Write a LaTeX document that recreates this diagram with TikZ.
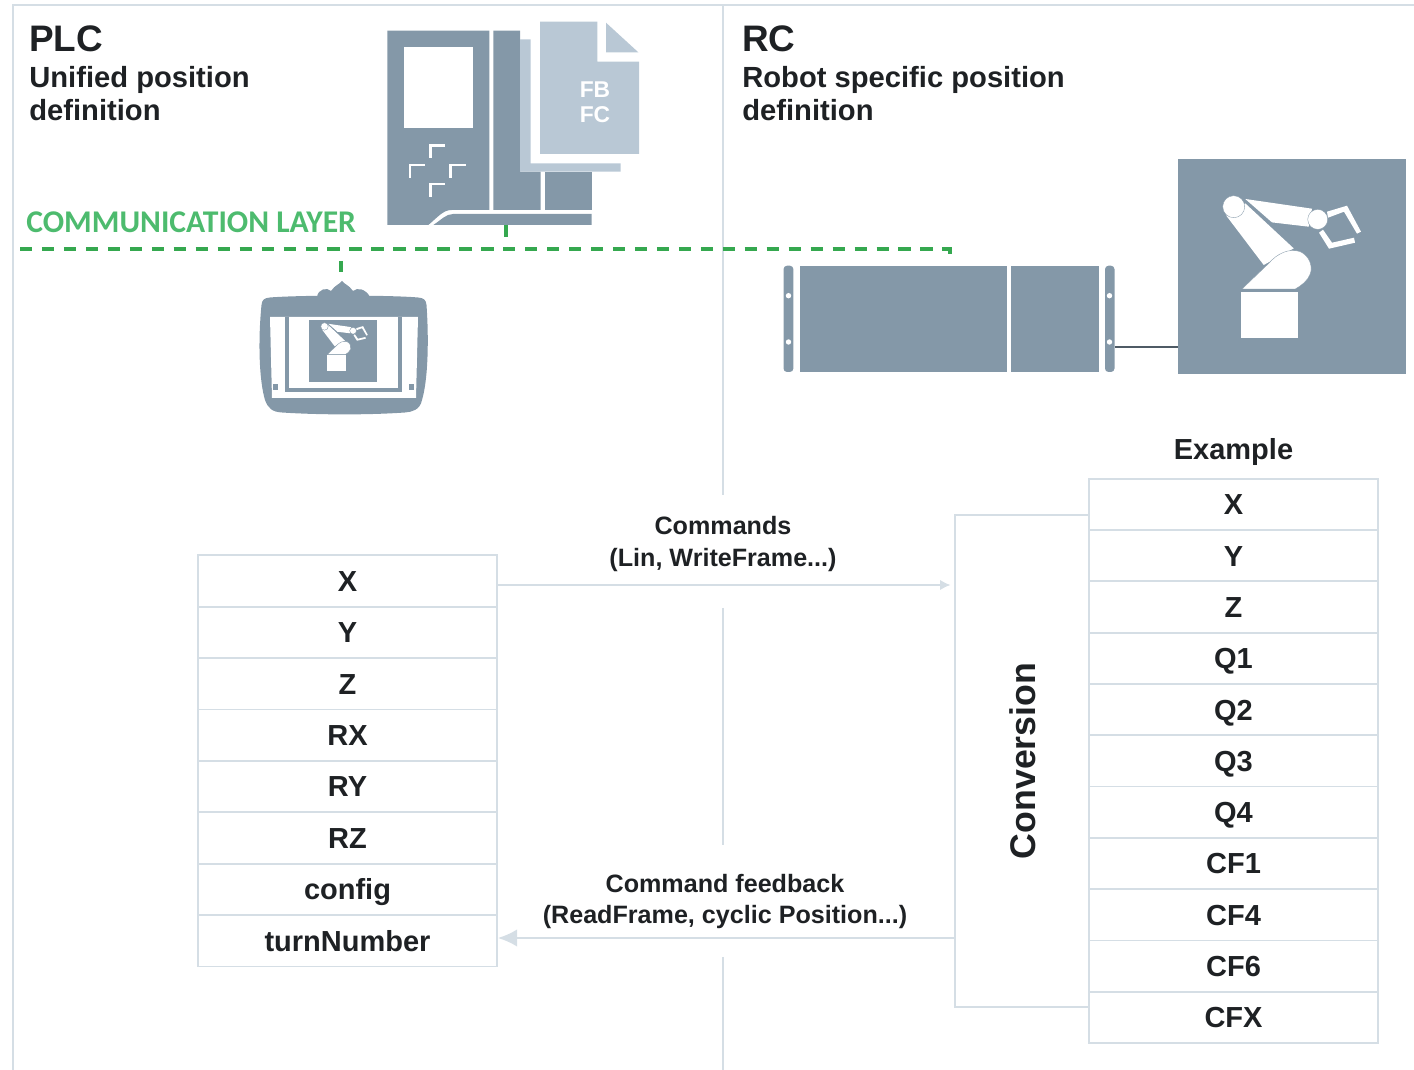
\documentclass[tikz,border=0pt]{standalone}
\usepackage{xcolor}
\usepackage{fontspec}
\setmainfont{Liberation Sans}
\newfontfamily\layerfont{Carlito}
\usetikzlibrary{arrows.meta}

\definecolor{iconcol}{HTML}{8498A8}
\definecolor{doccol}{HTML}{B9C8D5}
\definecolor{rulecol}{HTML}{D5DEE5}
\definecolor{buscol}{HTML}{35A84F}
\definecolor{layercol}{HTML}{4DBB6E}
\definecolor{textcol}{HTML}{1E2124}

\tikzset{
  cellbox/.style={draw=rulecol, line width=1pt, fill=white, inner sep=0pt, text=textcol,
    text height=11.8pt, text depth=0pt, font=\fontsize{16.5}{18}\selectfont\bfseries},
  plccell/.style={cellbox, minimum width=5.98cm, minimum height=1.03cm},
  rccell/.style={cellbox, minimum width=5.78cm, minimum height=1.03cm},
  titletext/.style={anchor=west, inner sep=0pt, text=textcol, font=\fontsize{21}{22}\selectfont\bfseries},
  subtext/.style={anchor=north west, inner sep=0pt, align=left, text=textcol,
    font=\fontsize{16.6}{18.8}\selectfont\bfseries},
  arrowtext/.style={inner sep=0pt, align=center, text=textcol,
    font=\fontsize{14.3}{18.2}\selectfont\bfseries},
  rule/.style={draw=rulecol, line width=1.2pt},
  bus/.style={draw=buscol, line width=2pt, dash pattern=on 7pt off 5.5pt},
  flow/.style={draw=rulecol, line width=1.3pt}
}

% robot arm icon, origin at the lower left corner of its base
\newcommand{\robotarm}[3]{
  \begin{scope}[shift={(#1,#2)}, scale=#3]
    \fill[white] (0,-46) rectangle (56.5,0);
    \fill[white] (-14.7,-122) -- (4.3,-134.3) -- (52.7,-89.3) -- (22.7,-72.7) -- cycle;
    \fill[white] (4.3,-138.7) -- (71,-129) -- (67.7,-111) -- (31,-115.3) -- cycle;
    \filldraw[fill=white, draw=iconcol, very thin] (1,-48.7) -- (27.7,-74.3)
      .. controls (36,-84) and (48,-90) .. (59.3,-86)
      .. controls (68,-82) and (72,-72) .. (69.3,-64)
      .. controls (67,-57) and (60,-52) .. (54.3,-48.7) -- cycle;
    \filldraw[fill=white, draw=iconcol, very thin] (-7.3,-131) circle (11);
    \filldraw[fill=white, draw=iconcol, very thin] (76.7,-118.3) circle (10);
    \fill[white] (86,-126) -- (106,-132) -- (120,-106) -- (116,-104) -- (103,-126) -- (87,-120) -- cycle;
    \fill[white] (82,-108) -- (91,-95) -- (113,-100) -- (114,-95) -- (88,-89) -- (78,-105) -- cycle;
  \end{scope}
}

\begin{document}
\begin{tikzpicture}[x=0.02cm, y=-0.02cm]
    \useasboundingbox (0,0) rectangle (1414,1070);

    % Frame and divider
    \draw[rule] (13,1070) -- (13,5) -- (1414,5);
    \draw[rule] (723,5) -- (723,495);
    \draw[rule] (723,608) -- (723,845);
    \draw[rule] (723,957) -- (723,1070);

    % Headings
    \node[titletext] (plctitle) at (29,39) {PLC};
    \node[subtext] (plcsub) at (29,66) {Unified position\\definition};
    \node[titletext] (rctitle) at (742,39) {RC};
    \node[subtext] (rcsub) at (742,66) {Robot specific position\\definition};
    \node[anchor=west, inner sep=0pt, text=layercol, font=\fontsize{18}{20}\selectfont\layerfont\bfseries]
      (layertext) at (26,222) {COMMUNICATION LAYER};

    % PLC icon
    \fill[iconcol] (387.3,30.7) -- (489.3,30.7) -- (489.3,210) -- (451.7,210)
      .. controls (443,210) and (438,217) .. (428.3,225) -- (387.3,225) -- cycle;
    \fill[white] (404,46.7) rectangle (473,127.7);
    \draw[white, line width=1.5pt] (430.7,158) -- (430.7,145.7) -- (445,145.7);
    \draw[white, line width=1.5pt] (410,178) -- (410,165) -- (425,165);
    \draw[white, line width=1.5pt] (450.7,178) -- (450.7,165) -- (465.7,165);
    \draw[white, line width=1.5pt] (430.7,197) -- (430.7,184) -- (445,184);
    \fill[iconcol] (493.3,30.7) -- (520,30.7) -- (520,171.7) -- (540.7,171.7) -- (540.7,210) -- (493.3,210) -- cycle;
    \fill[iconcol] (545,171.7) rectangle (591.7,210);
    \fill[iconcol] (433.3,225) .. controls (441,220) and (446,214) .. (453,214) -- (591.7,214) -- (591.7,225) -- cycle;
    \fill[doccol] (520,39.3) -- (530.7,39.3) -- (530.7,163.3) -- (620.7,163.3) -- (620.7,171.7) -- (520,171.7) -- cycle;
    \fill[doccol] (540,21.7) -- (597.3,21.7) -- (597.3,61.7) -- (639,61.7) -- (639,154) -- (540,154) -- cycle;
    \fill[doccol] (606,22.7) -- (638.3,52.3) -- (606,52.3) -- cycle;
    \node[inner sep=0pt, text=white, font=\fontsize{13}{14}\selectfont\bfseries] (fbtext) at (595,90) {FB};
    \node[inner sep=0pt, text=white, font=\fontsize{13}{14}\selectfont\bfseries] (fctext) at (595,115) {FC};

    % Pendant icon
    \fill[iconcol] (317,297) .. controls (318,289) and (327,287) .. (331,291)
      .. controls (335,285) and (340,284) .. (342,281) .. controls (344,284) and (349,285) .. (353,291)
      .. controls (357,287) and (366,289) .. (370,297) -- cycle;
    \fill[iconcol] (270,297.5) .. controls (300,295) and (390,295) .. (418,297.5)
      .. controls (424,298) and (426,300) .. (426.5,305) .. controls (429,340) and (428,380) .. (422,400)
      .. controls (420,410) and (412,412) .. (405,412.5) .. controls (370,415) and (320,415) .. (282,412.5)
      .. controls (272,412) and (268,408) .. (265,400) .. controls (259,380) and (258,340) .. (261.5,305)
      .. controls (262,300) and (264,298) .. (270,297.5) -- cycle;
    \fill[white] (270,317) -- (418,317) -- (416,398) -- (272,398) -- cycle;
    \draw[iconcol, line width=2pt] (287,317) -- (287,390) -- (400,390) -- (400,317);
    \fill[iconcol] (309,320) rectangle (377,382);
    \fill[iconcol] (272.5,384.5) rectangle (278,390);
    \fill[iconcol] (408.5,384.5) rectangle (414,390);
    \robotarm{327}{371}{0.34}

    % Controller icon
    \fill[iconcol, rounded corners=2pt] (783.5,265.7) rectangle (793.4,372);
    \fill[iconcol] (799.6,265.7) rectangle (1007,372);
    \fill[iconcol] (1010.6,265.7) rectangle (1099,372);
    \fill[iconcol, rounded corners=2pt] (1105,265.7) rectangle (1114.5,372);
    \fill[white] (788.5,295.7) circle (2.7);
    \fill[white] (788.5,342) circle (2.7);
    \fill[white] (1109.5,295.7) circle (2.7);
    \fill[white] (1109.5,342) circle (2.7);

    % Robot icon
    \fill[iconcol] (1178,159) rectangle (1406,374);
    \robotarm{1241}{337.7}{1}
    \coordinate (wireleft) at (1114.5,347);
    \coordinate (wireright) at (1178,347);
    \draw[draw=iconcol!60!black, line width=1.2pt] (wireleft) -- (wireright);

    % Communication bus
    \coordinate (busstart) at (20,249);
    \coordinate (busend) at (950,249);
    \coordinate (rcport) at (950,257);
    \coordinate (plcport) at (506,225);
    \coordinate (plctap) at (506,249);
    \coordinate (pendantport) at (341,272);
    \coordinate (pendanttap) at (341,261);
    \draw[bus] (busstart) -- (busend) -- (rcport);
    \draw[bus] (plcport) -- (plctap);
    \draw[bus] (pendanttap) -- (pendantport);

    % PLC table
    \node[plccell] (plcx) at (347.5,581) {X};
    \node[plccell] (plcy) at (347.5,632.4) {Y};
    \node[plccell] (plcz) at (347.5,683.8) {Z};
    \node[plccell] (plcrx) at (347.5,735.2) {RX};
    \node[plccell] (plcry) at (347.5,786.6) {RY};
    \node[plccell] (plcrz) at (347.5,838) {RZ};
    \node[plccell] (plcconfig) at (347.5,889.4) {config};
    \node[plccell] (plcturn) at (347.5,940.8) {turnNumber};

    % Conversion
    \node[cellbox, minimum width=2.68cm, minimum height=9.84cm] (conv) at (1022,761) {};
    \node[rotate=90, inner sep=0pt, text=textcol, font=\fontsize{20.3}{22}\selectfont\bfseries] (convtext) at (1023,761) {Conversion};

    % RC table
    \node[inner sep=0pt, text=textcol, font=\fontsize{16.5}{18}\selectfont\bfseries] (rchead) at (1233.5,452) {Example};
    \node[rccell] (rcx) at (1233.5,504.5) {X};
    \node[rccell] (rcy) at (1233.5,555.8) {Y};
    \node[rccell] (rcz) at (1233.5,607.1) {Z};
    \node[rccell] (rcqa) at (1233.5,658.4) {Q1};
    \node[rccell] (rcqb) at (1233.5,709.7) {Q2};
    \node[rccell] (rcqc) at (1233.5,761) {Q3};
    \node[rccell] (rcqd) at (1233.5,812.3) {Q4};
    \node[rccell] (rccfa) at (1233.5,863.6) {CF1};
    \node[rccell] (rccfb) at (1233.5,914.9) {CF4};
    \node[rccell] (rccfc) at (1233.5,966.2) {CF6};
    \node[rccell] (rccfx) at (1233.5,1017.5) {CFX};

    % Connections
    \node[arrowtext] (cmdtext) at (723,544) {Commands\\(Lin, WriteFrame...)};
    \node[arrowtext] (fbacktext) at (725,901.5) {Command feedback\\(ReadFrame, cyclic Position...)};
    \draw[flow, -{Latex[length=6pt,width=6pt]}, shorten >=2pt]
      ([yshift=-0.08cm]plcx.east) -- ([yshift=-0.08cm]plcx.east -| conv.west);
    \draw[flow, -{Latex[length=11pt,width=10pt]}]
      ([yshift=0.056cm]conv.west |- plcturn.east) -- ([yshift=0.056cm]plcturn.east);
\end{tikzpicture}
\end{document}
